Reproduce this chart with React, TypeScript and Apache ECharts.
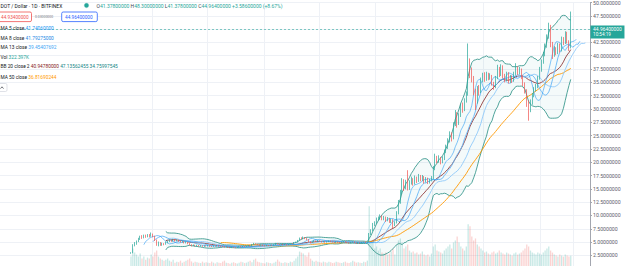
import React, { useEffect, useRef } from "react";
import * as echarts from "echarts";

// ---------- data ----------
const START_DATE = "2020-08-20"; // first daily candle
const LEAD_DAYS = 71; // empty time slots left of the first candle
const TRAIL_DAYS = 10; // empty time slots right of the last candle
const FIRST_OPEN = 2.85;

const closes = [
  2.95, 4.40, 4.60, 5.10, 5.50, 6.00, 5.80, 6.20, 6.00, 6.30,
  6.10, 6.50, 6.10, 5.40, 4.60, 4.90, 4.50, 4.70, 4.60, 4.90,
  5.10, 5.30, 5.20, 5.40, 5.25, 5.35, 5.15, 5.00, 5.10, 4.85,
  4.95, 4.70, 4.50, 4.35, 4.45, 4.30, 4.40, 4.25, 4.35, 4.20,
  4.30, 4.25, 4.35, 4.20, 4.15, 4.30, 4.25, 4.35, 4.25, 4.20,
  4.15, 4.05, 4.10, 4.00, 3.95, 4.05, 4.00, 3.95, 4.05, 4.15,
  4.10, 4.20, 4.15, 4.25, 4.35, 4.30, 4.55, 4.70, 4.60, 4.50,
  4.40, 4.45, 4.35, 4.30, 4.40, 4.35, 4.45, 4.40, 4.50, 4.75,
  4.65, 4.55, 4.60, 4.50, 4.55, 4.45, 4.60, 4.70, 4.65, 4.90,
  5.00, 5.30, 5.75, 5.60, 5.90, 5.70, 5.50, 5.10, 4.90, 5.05,
  5.20, 5.10, 5.25, 5.15, 5.00, 5.10, 4.95, 5.05, 5.20, 5.10,
  5.00, 4.90, 5.05, 4.95, 4.85, 5.00, 5.10, 5.00, 4.90, 4.80,
  4.95, 5.05, 4.85, 4.75, 4.90, 4.80, 4.95, 5.00, 4.90, 5.05,
  6.40, 7.10, 8.20, 8.50, 9.20, 9.40, 9.80, 9.30, 9.60, 9.00,
  9.40, 8.80, 9.10, 8.20, 8.60, 10.40, 12.50, 14.30, 16.40, 15.20,
  16.20, 15.00, 16.10, 16.80, 16.00, 17.00, 16.50, 17.30, 16.70, 17.20,
  16.40, 16.90, 16.30, 16.60, 17.00, 18.80, 20.90, 20.20, 20.80, 20.00,
  20.60, 22.00, 22.80, 24.00, 25.20, 24.50, 27.00, 29.20, 27.20, 28.80,
  30.50, 29.80, 31.50, 32.80, 38.80, 37.20, 35.80, 33.40, 31.50, 33.80,
  33.20, 35.40, 36.30, 35.60, 36.50, 35.90, 36.20, 34.80, 34.10, 35.80,
  37.50, 36.40, 38.00, 36.20, 35.40, 36.60, 35.20, 36.00, 35.30, 36.60,
  37.60, 36.80, 37.40, 36.00, 34.80, 33.40, 31.00, 29.90, 31.20, 32.60,
  33.60, 34.20, 35.80, 37.40, 38.80, 40.20, 41.80, 43.50, 45.40, 42.20,
  40.20, 41.20, 40.60, 42.00, 41.00, 43.20, 42.40, 44.20, 42.60, 41.378,
  44.964,
];

const highs = [
  3.10, 4.60, 5.00, 5.30, 5.80, 6.20, 6.30, 6.40, 6.40, 6.50,
  6.50, 6.80, 6.60, 6.20, 5.50, 5.10, 5.00, 4.90, 4.80, 5.10,
  5.30, 5.50, 5.45, 5.60, 5.55, 5.50, 5.45, 5.25, 5.25, 5.15,
  5.10, 5.00, 4.80, 4.60, 4.55, 4.50, 4.50, 4.45, 4.45, 4.40,
  4.40, 4.38, 4.45, 4.40, 4.30, 4.40, 4.38, 4.45, 4.40, 4.32,
  4.28, 4.22, 4.20, 4.15, 4.08, 4.12, 4.10, 4.06, 4.12, 4.22,
  4.22, 4.28, 4.26, 4.32, 4.45, 4.42, 4.65, 4.85, 4.78, 4.68,
  4.58, 4.55, 4.52, 4.42, 4.48, 4.46, 4.52, 4.52, 4.58, 4.85,
  4.82, 4.70, 4.68, 4.66, 4.62, 4.60, 4.68, 4.78, 4.78, 5.00,
  5.10, 5.40, 5.85, 5.90, 6.05, 5.95, 5.80, 5.55, 5.15, 5.15,
  5.30, 5.28, 5.35, 5.32, 5.20, 5.18, 5.15, 5.12, 5.28, 5.26,
  5.15, 5.05, 5.12, 5.10, 5.00, 5.08, 5.18, 5.15, 5.05, 4.95,
  5.02, 5.12, 5.10, 4.92, 4.98, 4.95, 5.02, 5.08, 5.06, 5.12,
  6.70, 7.40, 8.60, 8.90, 9.60, 9.80, 10.20, 10.00, 9.90, 9.80,
  9.70, 9.50, 9.40, 9.30, 8.90, 10.80, 12.90, 14.80, 17.00, 16.80,
  16.70, 18.50, 16.60, 17.30, 17.00, 17.50, 17.30, 17.80, 17.60, 17.60,
  17.40, 17.20, 17.10, 16.90, 17.40, 19.30, 21.60, 21.20, 21.30, 21.00,
  21.10, 22.40, 23.30, 24.50, 25.80, 25.60, 27.50, 29.80, 29.40, 29.20,
  31.00, 31.20, 32.00, 33.30, 42.30, 39.50, 37.80, 36.20, 33.80, 34.30,
  34.50, 35.90, 36.80, 36.90, 37.00, 36.80, 36.70, 36.40, 35.10, 36.20,
  38.30, 37.90, 38.40, 38.20, 36.60, 37.00, 36.90, 36.40, 36.30, 37.00,
  38.60, 38.00, 37.90, 37.60, 36.30, 35.00, 33.70, 31.60, 31.80, 33.00,
  34.10, 34.70, 36.20, 37.90, 39.30, 40.70, 42.30, 44.00, 46.20, 45.80,
  42.60, 41.80, 41.60, 42.40, 42.30, 43.60, 43.50, 44.60, 44.50, 42.90,
  48.30,
];

const lows = [
  2.80, 2.90, 4.20, 4.50, 5.00, 5.40, 5.60, 5.70, 5.80, 5.90,
  5.90, 6.00, 5.90, 5.20, 4.30, 4.20, 4.30, 4.30, 4.40, 4.50,
  4.80, 5.00, 5.05, 5.10, 5.10, 5.15, 5.05, 4.90, 4.90, 4.75,
  4.75, 4.60, 4.40, 4.20, 4.25, 4.20, 4.20, 4.15, 4.15, 4.10,
  4.10, 4.15, 4.18, 4.10, 4.05, 4.10, 4.15, 4.18, 4.15, 4.10,
  4.05, 3.95, 3.98, 3.90, 3.85, 3.88, 3.90, 3.86, 3.90, 4.00,
  4.02, 4.05, 4.08, 4.10, 4.20, 4.22, 4.25, 4.50, 4.52, 4.42,
  4.32, 4.34, 4.28, 4.20, 4.24, 4.26, 4.30, 4.32, 4.35, 4.45,
  4.58, 4.48, 4.48, 4.42, 4.44, 4.38, 4.40, 4.55, 4.58, 4.60,
  4.85, 4.95, 5.25, 5.50, 5.55, 5.55, 5.35, 4.90, 4.75, 4.85,
  5.00, 5.02, 5.05, 5.08, 4.92, 4.95, 4.88, 4.90, 5.00, 5.02,
  4.92, 4.82, 4.85, 4.88, 4.78, 4.80, 4.95, 4.92, 4.82, 4.72,
  4.75, 4.90, 4.78, 4.65, 4.70, 4.72, 4.75, 4.90, 4.84, 4.86,
  5.00, 6.30, 7.00, 8.00, 8.40, 9.00, 9.20, 9.10, 9.10, 8.80,
  8.90, 8.60, 8.60, 7.60, 8.00, 8.50, 10.20, 12.20, 14.00, 14.60,
  14.90, 14.70, 14.80, 15.80, 15.60, 15.80, 16.10, 16.30, 16.40, 16.50,
  16.00, 16.20, 15.90, 16.00, 16.40, 16.80, 18.50, 19.80, 19.90, 19.60,
  19.80, 20.40, 21.70, 22.50, 23.70, 23.90, 24.30, 26.80, 26.50, 27.00,
  28.50, 29.30, 29.60, 31.20, 32.50, 35.80, 35.00, 32.60, 29.80, 31.00,
  32.50, 33.00, 35.00, 35.10, 35.30, 35.40, 35.50, 34.40, 33.60, 33.90,
  35.60, 36.00, 36.20, 35.80, 35.00, 35.20, 34.80, 34.90, 34.90, 35.10,
  36.30, 36.40, 36.50, 35.60, 34.30, 32.90, 30.40, 27.80, 29.40, 30.80,
  32.20, 33.30, 33.90, 35.50, 37.00, 38.50, 39.90, 41.50, 43.20, 41.60,
  39.40, 39.80, 40.10, 40.30, 40.60, 40.80, 42.00, 42.20, 42.30, 40.90,
  41.378,
];

// daily volume, thousands of DOT
const volumesK = [
  300, 500, 400, 350, 300, 375, 250, 300, 225, 275,
  250, 350, 300, 400, 450, 300, 250, 225, 200, 225,
  250, 200, 175, 225, 150, 175, 160, 200, 150, 175,
  200, 225, 250, 180, 150, 175, 160, 150, 140, 175,
  150, 160, 150, 140, 175, 150, 130, 160, 150, 140,
  175, 200, 150, 140, 125, 150, 160, 140, 130, 150,
  175, 160, 140, 150, 175, 200, 160, 225, 250, 175,
  160, 150, 140, 130, 160, 150, 140, 130, 150, 175,
  225, 175, 150, 140, 160, 150, 140, 175, 160, 200,
  250, 300, 425, 400, 375, 325, 300, 400, 250, 200,
  175, 200, 175, 160, 150, 175, 160, 150, 175, 160,
  140, 150, 175, 160, 150, 140, 160, 175, 150, 140,
  160, 200, 175, 150, 160, 150, 140, 175, 160, 200,
  1550, 700, 650, 500, 550, 450, 500, 400, 375, 400,
  350, 375, 425, 500, 350, 600, 700, 750, 650, 500,
  550, 600, 450, 400, 425, 375, 400, 350, 375, 425,
  350, 325, 350, 300, 375, 550, 600, 450, 425, 400,
  375, 450, 500, 550, 600, 500, 650, 700, 800, 650,
  550, 500, 450, 550, 1100, 1050, 800, 700, 750, 600,
  550, 500, 450, 400, 425, 375, 350, 400, 425, 375,
  400, 450, 400, 375, 350, 400, 375, 350, 325, 375,
  400, 350, 375, 400, 450, 500, 600, 550, 450, 400,
  375, 350, 400, 375, 350, 400, 450, 500, 550, 450,
  400, 350, 325, 300, 350, 325, 300, 350, 325, 300,
  322.397,
];

const GRID_DATES = [
  "2020-09-01", "2020-10-01", "2020-11-01", "2020-12-01",
  "2021-01-01", "2021-02-01", "2021-03-01", "2021-04-01", "2021-04-19",
];

const LAST_OHLC = { o: 41.378, h: 48.3, l: 41.378, c: 44.964, chg: 3.586, pct: 8.67 };
const BID = 44.934;
const ASK = 44.964;
const SPREAD = 0.03;
const CLOCK = "10:54:19";
const LEGEND_VALUES = {
  ma5: 41.7406,
  ma8: 41.79275,
  ma13: 39.45407692,
  vol: "322.397K",
  bbBasis: 40.9478,
  bbUpper: 47.13562455,
  bbLower: 34.75997545,
  ma50: 36.81690244,
};

// ---------- colours ----------
const UP = "#26a69a";
const DOWN = "#ef5350";
const FONT = 'Roboto, "Noto Sans", sans-serif';

function dateStr(base: string, addDays: number): string {
  const d = new Date(base + "T00:00:00Z");
  d.setUTCDate(d.getUTCDate() + addDays);
  return d.toISOString().slice(0, 10);
}

function sma(src: number[], n: number): (number | null)[] {
  return src.map((_, j) => {
    if (j < n - 1) return null;
    let s = 0;
    for (let k = j - n + 1; k <= j; k++) s += src[k];
    return s / n;
  });
}

function stdev(src: number[], n: number): (number | null)[] {
  const m = sma(src, n);
  return src.map((_, j) => {
    if (j < n - 1) return null;
    let s = 0;
    for (let k = j - n + 1; k <= j; k++) s += (src[k] - (m[j] as number)) ** 2;
    return Math.sqrt(s / n);
  });
}

const CHART_H = 270; // taller than the 266px window: the price 0 line sits just below the visible edge

export default function App() {
  const ref = useRef<HTMLDivElement>(null);

  useEffect(() => {
    document.body.style.margin = "0";
    document.body.style.overflow = "hidden";
    document.documentElement.style.overflow = "hidden";
    if (!ref.current) return;
    const chart = echarts.init(ref.current, undefined, { renderer: "svg" });

    const n = closes.length;
    const total = LEAD_DAYS + n + TRAIL_DAYS;
    const categories: string[] = [];
    for (let k = 0; k < total; k++) categories.push(dateStr(START_DATE, k - LEAD_DAYS));

    const opens = closes.map((_, j) => (j === 0 ? FIRST_OPEN : closes[j - 1]));

    const place = (vals: (number | null)[], offset: number) => {
      const arr: (number | string)[] = new Array(total).fill("-");
      vals.forEach((v, j) => {
        const idx = LEAD_DAYS + j + offset;
        if (v != null && idx < total) arr[idx] = v;
      });
      return arr;
    };

    const candle: any[] = new Array(total).fill("-");
    const vol: any[] = new Array(total).fill("-");
    for (let j = 0; j < n; j++) {
      candle[LEAD_DAYS + j] = [opens[j], closes[j], lows[j], highs[j]];
      const up = closes[j] >= opens[j];
      vol[LEAD_DAYS + j] = {
        value: volumesK[j],
        itemStyle: { color: up ? "rgba(38,166,154,0.25)" : "rgba(239,83,80,0.25)" },
      };
    }

    const basis = sma(closes, 20);
    const sd = stdev(closes, 20);
    const upper = basis.map((b, j) => (b == null ? null : b + 2 * (sd[j] as number)));
    const lower = basis.map((b, j) => (b == null ? null : b - 2 * (sd[j] as number)));
    const width = basis.map((b, j) => (b == null ? null : 4 * (sd[j] as number)));

    const lineS = (name: string, data: any[], color: string, w = 0.9, extra: any = {}) => ({
      name,
      type: "line",
      data,
      symbol: "none",
      smooth: false,
      connectNulls: false,
      lineStyle: { color, width: w },
      emphasis: { disabled: true },
      z: 2,
      ...extra,
    });

    const LBL = "#131722";
    const f8 = (v: number) => v.toFixed(8);

    // one legend row = one rich text, label then coloured values
    const row = (x: number, y: number, label: string, values: { t: string; c: string }[], size = 4.8) => {
      const rich: any = { l: { fill: LBL, color: LBL, fontSize: size, fontFamily: FONT } };
      let str = `{l|${label}}`;
      values.forEach((v, i) => {
        rich["v" + i] = { fill: v.c, color: v.c, fontSize: size, fontFamily: FONT };
        str += ` {v${i}|${v.t}}`;
      });
      return {
        type: "text",
        x,
        y,
        z: 100,
        style: {
          text: str,
          rich,
          fontSize: size,
          fontFamily: FONT,
          verticalAlign: "middle",
          textVerticalAlign: "middle",
        },
      };
    };

    const plain = (x: number, y: number, t: string, color: string, size = 4.8) => ({
      type: "text",
      x,
      y,
      z: 100,
      style: { text: t, fill: color, fontSize: size, fontFamily: FONT, verticalAlign: "middle", textVerticalAlign: "middle" },
    });

    const graphic: any[] = [
      plain(0.5, 5.6, "DOT / Dollar · 1D · BITFINEX", LBL, 5),
      {
        type: "circle",
        z: 100,
        shape: { cx: 86.5, cy: 5.4, r: 2.1 },
        style: { fill: UP, stroke: "rgba(38,166,154,0.3)", lineWidth: 1.2 },
      },
      {
        type: "text",
        x: 96.5,
        y: 5.6,
        z: 100,
        style: {
          text:
            `{k|O}{v|${f8(LAST_OHLC.o)}} {k|H}{v|${f8(LAST_OHLC.h)}} {k|L}{v|${f8(LAST_OHLC.l)}} ` +
            `{k|C}{v|${f8(LAST_OHLC.c)}} {v|+${f8(LAST_OHLC.chg)} (+${LAST_OHLC.pct.toFixed(2)}%)}`,
          fontSize: 5,
          fontFamily: FONT,
          verticalAlign: "middle",
          textVerticalAlign: "middle",
          rich: {
            k: { fill: "#434651", color: "#434651", fontSize: 5, fontFamily: FONT },
            v: { fill: UP, color: UP, fontSize: 5, fontFamily: FONT },
          },
        },
      },
      {
        type: "rect",
        z: 99,
        shape: { x: -3, y: 12, width: 34.5, height: 9.6, r: 1.5 },
        style: { fill: "#fff", stroke: DOWN, lineWidth: 0.8 },
      },
      plain(1, 17, f8(BID), DOWN, 4.7),
      plain(35, 17, f8(SPREAD), "#787b86", 3.4),
      {
        type: "rect",
        z: 99,
        shape: { x: 61.7, y: 12, width: 35.6, height: 9.6, r: 1.5 },
        style: { fill: "#fff", stroke: "#2962ff", lineWidth: 0.8 },
      },
      plain(65, 17, f8(ASK), "#2962ff", 4.7),

      row(0.5, 28.4, "MA 5 close", [{ t: f8(LEGEND_VALUES.ma5), c: "#2196f3" }]),
      row(0.5, 38, "MA 8 close", [{ t: f8(LEGEND_VALUES.ma8), c: "#1e88e5" }]),
      row(0.5, 47.8, "MA 13 close", [{ t: LEGEND_VALUES.ma13.toFixed(8), c: "#42a5f5" }]),
      row(0.5, 57, "Vol", [{ t: LEGEND_VALUES.vol, c: UP }]),
      row(0.5, 66.8, "BB 20 close 2", [
        { t: f8(LEGEND_VALUES.bbBasis), c: "#872323" },
        { t: f8(LEGEND_VALUES.bbUpper), c: "#138484" },
        { t: f8(LEGEND_VALUES.bbLower), c: "#138484" },
      ]),
      row(0.5, 77.4, "MA 50 close", [{ t: f8(LEGEND_VALUES.ma50), c: "#ff9800" }]),
      {
        type: "rect",
        z: 99,
        shape: { x: -3, y: 83.5, width: 10, height: 8, r: 1.5 },
        style: { fill: "#fff", stroke: "#d1d4dc", lineWidth: 0.7 },
      },
      {
        type: "polyline",
        z: 100,
        shape: { points: [[0.5, 88.6], [2, 86.8], [3.5, 88.6]] },
        style: { stroke: "#131722", lineWidth: 0.6, fill: "none" },
      },
    ];

    const option: any = {
      animation: false,
      backgroundColor: "#ffffff",
      grid: { left: 0, right: 35, top: 2.3, bottom: CHART_H - 268.7, containLabel: false },
      xAxis: {
        type: "category",
        data: categories,
        boundaryGap: true,
        axisLine: { show: false },
        axisTick: { show: false },
        axisLabel: { show: false },
        splitLine: {
          show: true,
          interval: (_i: number, v: string) => GRID_DATES.includes(v),
          lineStyle: { color: "#eef1f6", width: 1 },
        },
      },
      yAxis: [
        {
          type: "value",
          position: "right",
          min: 0,
          max: 50,
          interval: 2.5,
          axisLine: { show: true, lineStyle: { color: "#a3a6af", width: 1 } },
          axisTick: { show: true, length: 2, lineStyle: { color: "#a3a6af" } },
          axisLabel: {
            formatter: (v: number) => v.toFixed(7),
            fontSize: 5.2,
            color: "#5d606b",
            fontFamily: FONT,
            margin: 3,
            showMinLabel: false,
          },
          splitLine: { show: true, lineStyle: { color: "#eef1f6", width: 1 } },
        },
        {
          type: "value",
          min: 0,
          max: 6600,
          show: false,
          splitLine: { show: false },
        },
      ],
      graphic,
      series: [
        {
          name: "Volume",
          type: "bar",
          yAxisIndex: 1,
          data: vol,
          barWidth: "70%",
          z: 1,
          emphasis: { disabled: true },
        },
        lineS("bbBase", place(lower, 0), "rgba(0,0,0,0)", 0, { stack: "bb", z: 1 }),
        lineS("bbFill", place(width, 0), "rgba(0,0,0,0)", 0, {
          stack: "bb",
          z: 1,
          areaStyle: { color: "rgba(0,150,136,0.06)" },
        }),
        lineS("BB upper", place(upper, 0), "#3c9a8e", 0.9),
        lineS("BB lower", place(lower, 0), "#3c9a8e", 0.9),
        lineS("BB basis", place(basis, 0), "#872323", 0.8),
        lineS("MA 50", place(sma(closes, 50), 0), "#ff9800", 0.9),
        lineS("MA 13", place(sma(closes, 13), 8), "#90caf9", 0.9),
        lineS("MA 8", place(sma(closes, 8), 5), "#64b5f6", 0.9),
        lineS("MA 5", place(sma(closes, 5), 3), "#2196f3", 0.8, {
          lineStyle: { color: "#2196f3", width: 0.8, opacity: 0.7 },
        }),
        {
          name: "DOT",
          type: "candlestick",
          data: candle,
          barWidth: "62%",
          z: 3,
          itemStyle: {
            color: UP,
            color0: DOWN,
            borderColor: UP,
            borderColor0: DOWN,
            borderWidth: 0.7,
          },
          emphasis: { disabled: true },
          markLine: {
            silent: true,
            symbol: "none",
            animation: false,
            lineStyle: { color: "rgba(38,166,154,0.7)", type: [2, 2], width: 0.8 },
            label: {
              show: true,
              position: "end",
              distance: 0.5,
              offset: [0, 2.6],
              backgroundColor: UP,
              padding: [1, 2.6, 1, 2.6],
              formatter: `{p|${f8(ASK)}}\n{t|${CLOCK}}`,
              rich: {
                p: { color: "#fff", fontSize: 4.9, lineHeight: 5.6, fontFamily: FONT },
                t: { color: "#fff", fontSize: 4.6, lineHeight: 5.4, fontFamily: FONT },
              },
            },
            data: [{ yAxis: LAST_OHLC.c }],
          },
        },
      ],
    };

    chart.setOption(option);
    return () => chart.dispose();
  }, []);

  return <div ref={ref} style={{ width: 625, height: CHART_H }} />;
}
